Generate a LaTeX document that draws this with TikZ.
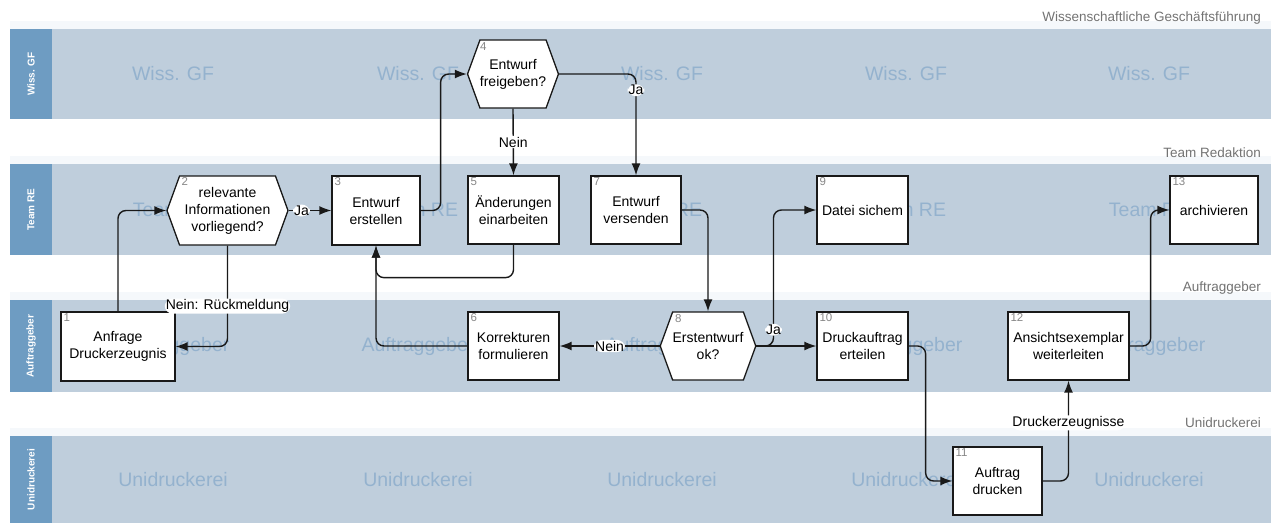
\documentclass[tikz,border=0pt]{standalone}
\usepackage{fontspec}
\setmainfont{Liberation Sans}
\usetikzlibrary{shapes.symbols,calc,arrows.meta}
\definecolor{lane}{RGB}{191,206,220}
\definecolor{lanehead}{RGB}{110,156,194}
\definecolor{wm}{RGB}{148,178,206}
\definecolor{strip}{RGB}{245,248,251}
\definecolor{sidegray}{RGB}{115,115,115}
\definecolor{numgray}{RGB}{135,135,135}
\definecolor{lineblk}{RGB}{25,25,25}
\begin{document}
\begin{tikzpicture}[x=1pt,y=-1pt,
  txt/.style={font=\fontsize{14}{17}\selectfont, align=center},
  box/.style={txt, draw=lineblk, line width=1.3pt, fill=white, inner sep=0pt},
  hexa/.style={txt, shape=signal, signal to=east and west, signal pointer angle=140,
    draw=lineblk, line width=1.3pt, fill=white, inner sep=0pt},
  num/.style={font=\fontsize{11.5}{12}\selectfont, text=numgray, inner sep=0pt, anchor=north west},
  headtxt/.style={font=\fontsize{10}{12}\selectfont\bfseries, text=white, rotate=90},
  sidetxt/.style={font=\fontsize{13.5}{14}\selectfont, text=sidegray, anchor=east, inner sep=0pt},
  wmtxt/.style={font=\fontsize{19.5}{20}\selectfont, text=wm},
  conn/.style={draw=lineblk, line width=1.4pt, rounded corners=8pt, -{Latex[length=12pt,width=9pt]}},
  lbl/.style={txt, fill=white, inner sep=1pt},
]
\useasboundingbox (0,0) rectangle (1271,523);
\fill[white] (0,0) rectangle (1271,523);

% lanes
\foreach \yt/\yb/\hd/\side/\sy [count=\i] in {
  29/119/Wiss. GF/Wissenschaftliche Geschäftsführung/18,
  164/255/Team RE/Team Redaktion/153,
  300/392/Auftraggeber/Auftraggeber/288,
  436/523/Unidruckerei/Unidruckerei/423}{
  \fill[strip] (10,\yt-8) rectangle (1271,\yt);
  \fill[lane] (52,\yt) rectangle (1271,\yb);
  \fill[lanehead] (10,\yt) rectangle (52,\yb);
  \node[headtxt] (h\i) at (31,{(\yt+\yb)/2}) {\hd};
  \node[sidetxt] (s\i) at (1261,\sy) {\side};
  \foreach \x [count=\j] in {173,418,662,906,1149}
    \node[wmtxt] (w\i-\j) at (\x,{(\yt+\yb)/2}) {\hd};
}

% nodes
\node[box, minimum width=114, minimum height=69] (n1) at (118,346.5) {Anfrage\\Druckerzeugnis};
\node[hexa, minimum width=121, minimum height=69] (n2) at (227.5,210.5) {relevante\\Informationen\\vorliegend?};
\node[box, minimum width=88, minimum height=69] (n3) at (376,210.5) {Entwurf\\erstellen};
\node[hexa, minimum width=90, minimum height=68] (n4) at (513,74) {Entwurf\\freigeben?};
\node[box, minimum width=91, minimum height=68] (n5) at (513.5,210) {Änderungen\\einarbeiten};
\node[box, minimum width=91, minimum height=68] (n6) at (513.5,346) {Korrekturen\\formulieren};
\node[box, minimum width=90, minimum height=68] (n7) at (636,210) {Entwurf\\versenden};
\node[hexa, minimum width=90, minimum height=68] (n8) at (708,346) {Erstentwurf\\ok?};
\node[box, minimum width=91, minimum height=68] (n9) at (862.5,210) {Datei sichem};
\node[box, minimum width=91, minimum height=68] (n10) at (862.5,346) {Druckauftrag\\erteilen};
\node[box, minimum width=89, minimum height=68] (n11) at (997.5,481) {Auftrag\\drucken};
\node[box, minimum width=121, minimum height=68] (n12) at (1068.5,346) {Ansichtsexemplar\\weiterleiten};
\node[box, minimum width=88, minimum height=68] (n13) at (1214,210) {archivieren};

% numbers
\node[num] (k1) at ($(n1.north west)+(3,2)$) {1};
\node[num] (k2) at ($(n2)+(-46,-33)$) {2};
\node[num] (k3) at ($(n3.north west)+(3,2)$) {3};
\node[num] (k4) at ($(n4)+(-33,-32)$) {4};
\node[num] (k5) at ($(n5.north west)+(3,2)$) {5};
\node[num] (k6) at ($(n6.north west)+(3,2)$) {6};
\node[num] (k7) at ($(n7.north west)+(3,2)$) {7};
\node[num] (k8) at ($(n8)+(-33,-32)$) {8};
\node[num] (k9) at ($(n9.north west)+(3,2)$) {9};
\node[num] (k10) at ($(n10.north west)+(3,2)$) {10};
\node[num] (k11) at ($(n11.north west)+(3,2)$) {11};
\node[num] (k12) at ($(n12.north west)+(3,2)$) {12};
\node[num] (k13) at ($(n13.north west)+(3,2)$) {13};

% connectors
\draw[conn] (n1.north) |- (n2.west);
\draw[conn] (n2.south) |- node[lbl, pos=0.3] {Nein: Rückmeldung} (n1.east);
\draw[conn] (n2.east) -- node[lbl, pos=0.3] {Ja} (n3.west);
\draw[conn] (n3.east) -- ++(20,0) |- (n4.west);
\draw[conn] (n4.south) -- node[lbl] {Nein} (n5.north);
\draw[conn] (n4.east) -| node[lbl, pos=0.58] {Ja} (n7.north);
\draw[conn] (n5.south) -- ++(0,33) -| (n3.south);
\draw[conn] (n6.west) -| (n3.south);
\draw[conn] (n8.west) -- node[lbl] {Nein} (n6.east);
\draw[conn] (n7.east) -| (n8.north);
\draw[conn] (n8.east) -- ++(17,0) |- node[lbl, pos=0.06] {Ja} (n9.west);
\draw[conn] (n8.east) -- (n10.west);
\draw[conn] (n10.east) -- ++(17,0) |- (n11.west);
\draw[conn] (n11.east) -| node[lbl, pos=0.79] {Druckerzeugnisse} (n12.south);
\draw[conn] (n12.east) -- ++(21,0) |- (n13.west);
\end{tikzpicture}
\end{document}
